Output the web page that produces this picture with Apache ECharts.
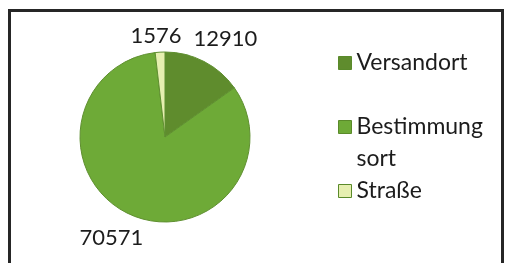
<!DOCTYPE html>
<html lang="de">
<head>
    <meta charset="UTF-8">
    <title>Pie</title>
    <style>
        html, body, #chart {
            width: 100%;
            height: 100%;
            margin: 0;
            padding: 0;
            background: #fff;
        }
    </style>
    <script src="https://cdn.jsdelivr.net/npm/echarts@6/dist/echarts.min.js"></script>
</head>
<body>
    <div id="chart"></div>
    <script>
        var names = ['Versandort', 'Bestimmungsort', 'Straße'];
        var values = [12910, 70571, 1576];
        var colors = ['#5f8c2d', '#6eaa37', '#e6efb0'];

        // label nudges, Excel puts them a bit off the radial line
        var labelShift = [[-22, 0], [23, 0], [23, 9]];

        var chart = echarts.init(document.getElementById('chart'));

        chart.setOption({
            animation: false,
            textStyle: { fontFamily: 'Lato' },
            graphic: [{
                type: 'rect',
                shape: { x: 9.5, y: 10.5, width: 493, height: 280 },
                style: { fill: 'none', stroke: '#262626', lineWidth: 3 },
                silent: true
            }],
            legend: {
                orient: 'vertical',
                left: 333,
                top: 42,
                itemGap: 0,
                itemWidth: 13,
                itemHeight: 13,
                icon: 'rect',
                itemStyle: { borderColor: '#5a8a2a', borderWidth: 1 },
                textStyle: { fontSize: 23, color: '#1c1c1c', lineHeight: 32, fontFamily: 'Lato' },
                formatter: function (name) {
                    if (name === 'Bestimmungsort') return '\nBestimmung\nsort';
                    return name;
                },
                data: names
            },
            series: [{
                type: 'pie',
                center: [165, 137],
                radius: 85,
                startAngle: 90,
                clockwise: true,
                avoidLabelOverlap: false,
                color: colors,
                itemStyle: { borderColor: '#5f8f30', borderWidth: 1 },
                label: {
                    show: true,
                    position: 'outside',
                    formatter: '{c}',
                    fontSize: 22,
                    color: '#1c1c1c',
                    fontFamily: 'Lato',
                    distanceToLabelLine: 0
                },
                labelLine: { show: false, length: 25, length2: 0 },
                labelLayout: function (params) {
                    var s = labelShift[params.dataIndex];
                    return { dx: s[0], dy: s[1] };
                },
                data: names.map(function (n, i) {
                    return { name: n, value: values[i] };
                })
            }]
        });
    </script>
</body>
</html>
